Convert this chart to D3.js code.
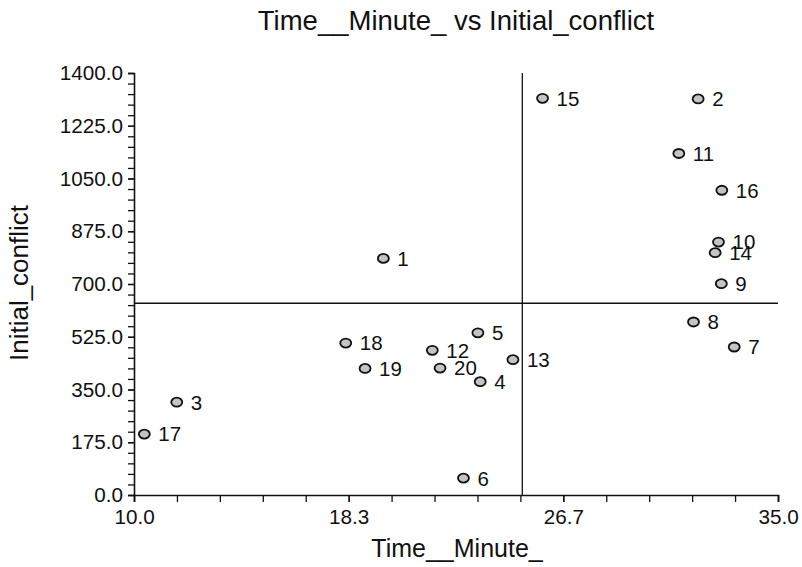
<!DOCTYPE html>
<html>
<head>
<meta charset="utf-8">
<script src="https://cdn.jsdelivr.net/npm/d3@7"></script>
<style>
  html, body { margin: 0; padding: 0; background: #fff; }
  text { font-family: "Liberation Sans", Arial, sans-serif; fill: #111; }
</style>
</head>
<body>
<svg id="chart" width="802" height="567"></svg>
<script>
// ---- data ----
const pointIds = [1, 2, 3, 4, 5, 6, 7, 8, 9, 10, 11, 12, 13, 14, 15, 16, 17, 18, 19, 20];
const timeMinute = [19.68, 31.90, 11.66, 23.44, 23.35, 22.79, 33.30, 31.72, 32.80, 32.69,
                    31.15, 21.58, 24.71, 32.56, 25.86, 32.82, 10.40, 18.22, 18.97, 21.88];
const initialConflict = [785, 1314, 308, 376, 538, 56, 491, 574, 701, 839,
                         1133, 480, 449, 804, 1316, 1011, 202, 504, 420, 421];
const xTickLabels = ["10.0", "18.3", "26.7", "35.0"];
const yTickLabels = ["0.0", "175.0", "350.0", "525.0", "700.0", "875.0", "1050.0", "1225.0", "1400.0"];
const chartTitle = "Time__Minute_ vs Initial_conflict";
const xTitle = "Time__Minute_";
const yTitle = "Initial_conflict";

// ---- layout ----
const svg = d3.select("#chart");
const mLeft = 134, mRight = 778, mTop = 73, mBottom = 495;
const xMin = 10, xMax = 35, yMin = 0, yMax = 1400;

const x = d3.scaleLinear().domain([xMin, xMax]).range([mLeft, mRight]);
const y = d3.scaleLinear().domain([yMin, yMax]).range([mBottom, mTop]);

// major / minor tick values
const xMajor = xTickLabels.map((d, i) => xMin + i * (xMax - xMin) / (xTickLabels.length - 1));
const xMinor = d3.range(0, 16).map(i => xMin + i * (xMax - xMin) / 15);
const yMajor = yTickLabels.map((d, i) => yMin + i * (yMax - yMin) / (yTickLabels.length - 1));
const yMinor = d3.range(0, 41).map(i => yMin + i * (yMax - yMin) / 40);

// minor ticks (no labels)
svg.append("g").attr("transform", `translate(0,${mBottom})`)
  .call(d3.axisBottom(x).tickValues(xMinor).tickSize(7).tickFormat(""))
  .call(g => g.select(".domain").remove());
svg.append("g").attr("transform", `translate(${mLeft},0)`)
  .call(d3.axisLeft(y).tickValues(yMinor).tickSize(6).tickFormat(""))
  .call(g => g.select(".domain").remove());

// major ticks with labels
const xAx = svg.append("g").attr("transform", `translate(0,${mBottom})`)
  .call(d3.axisBottom(x).tickValues(xMajor).tickSize(7).tickPadding(7)
    .tickFormat((d, i) => xTickLabels[i]));
const yAx = svg.append("g").attr("transform", `translate(${mLeft},0)`)
  .call(d3.axisLeft(y).tickValues(yMajor).tickSize(6).tickPadding(5)
    .tickFormat((d, i) => yTickLabels[i]));
[xAx, yAx].forEach(g => {
  g.selectAll("text").style("font-size", "20.7px").style("font-family", '"Liberation Sans", Arial, sans-serif').attr("fill", "#111");
  g.select(".domain").attr("stroke", "#111").attr("stroke-width", 1.6);
});
svg.selectAll(".tick line").attr("stroke", "#111").attr("stroke-width", 1.3);

// mean reference lines
const meanX = d3.mean(timeMinute);
const meanY = d3.mean(initialConflict);
svg.append("line")
  .attr("x1", x(meanX)).attr("x2", x(meanX))
  .attr("y1", y(yMax)).attr("y2", y(yMin))
  .attr("stroke", "#111").attr("stroke-width", 1.3);
svg.append("line")
  .attr("x1", x(xMin)).attr("x2", x(xMax))
  .attr("y1", y(meanY)).attr("y2", y(meanY))
  .attr("stroke", "#111").attr("stroke-width", 1.3);

// points
const pts = pointIds.map((id, i) => ({ id, t: timeMinute[i], c: initialConflict[i] }));
svg.append("g").selectAll("ellipse").data(pts).join("ellipse")
  .attr("cx", d => x(d.t)).attr("cy", d => y(d.c))
  .attr("rx", 5.5).attr("ry", 4.5)
  .attr("fill", "#c4c4c4").attr("stroke", "#111").attr("stroke-width", 1.8);

svg.append("g").selectAll("text").data(pts).join("text")
  .attr("x", d => x(d.t) + 14).attr("y", d => y(d.c))
  .attr("dy", "0.36em")
  .style("font-size", "20.5px")
  .text(d => d.id);

// titles
svg.append("text")
  .attr("x", (mLeft + mRight) / 2).attr("y", 30)
  .attr("text-anchor", "middle")
  .style("font-size", "27.5px")
  .text(chartTitle);
svg.append("text")
  .attr("x", (mLeft + mRight) / 2 + 1).attr("y", 557)
  .attr("text-anchor", "middle")
  .style("font-size", "25px")
  .text(xTitle);
svg.append("text")
  .attr("transform", `translate(28,283) rotate(-90)`)
  .attr("text-anchor", "middle")
  .style("font-size", "26px")
  .text(yTitle);
</script>
</body>
</html>
